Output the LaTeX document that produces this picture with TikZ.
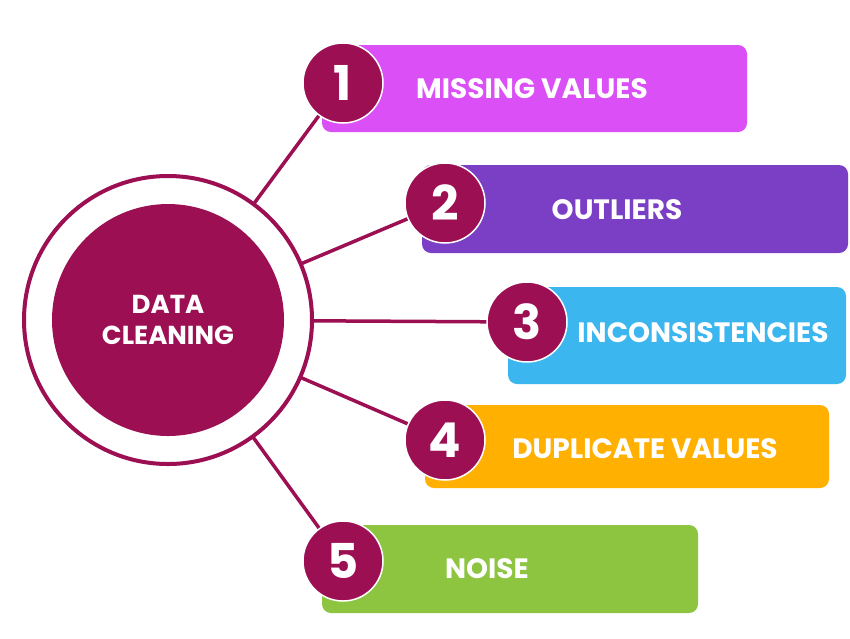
\documentclass[tikz,border=0pt]{standalone}
\usepackage{fontspec}
\setmainfont{Poppins}[BoldFont={* Bold}]
\definecolor{maroon}{HTML}{9C0F52}
\definecolor{c1}{HTML}{DA4FF6}
\definecolor{c2}{HTML}{7A3FC5}
\definecolor{c3}{HTML}{3CB6EF}
\definecolor{c4}{HTML}{FFB000}
\definecolor{c5}{HTML}{8DC540}
\begin{document}
\begin{tikzpicture}[x=1pt,y=-1pt,
  num/.style={circle,fill=maroon,draw=white,line width=1.5pt,minimum size=80pt,text=white,font=\bfseries\fontsize{48}{48}\selectfont},
  lbl/.style={text=white,font=\bfseries\fontsize{28}{28}\selectfont},
  link/.style={draw=maroon,line width=3.5pt}]
\useasboundingbox[fill=white] (0,0) rectangle (850,638);
\coordinate (c) at (168,320);
\node[num] (n1) at (343,83) {1};
\node[num] (n2) at (445,203) {2};
\node[num] (n3) at (527,322) {3};
\node[num] (n4) at (445,440) {4};
\node[num] (n5) at (343,561) {5};
\foreach \i in {1,...,5} \draw[link] (c) -- (n\i.center);
\node[circle,fill=white,draw=maroon,line width=4pt,minimum size=288pt] (outer) at (c) {};
\node[circle,fill=maroon,minimum size=232pt,text=white,align=center,font=\bfseries\fontsize{26}{31}\selectfont] (inner) at (c) {DATA\\CLEANING};
\fill[c1,rounded corners=9pt] (322,45) rectangle (747,132);
\fill[c2,rounded corners=9pt] (422,165) rectangle (848,253);
\fill[c3,rounded corners=9pt] (508,287) rectangle (846,384);
\fill[c4,rounded corners=9pt] (425,405) rectangle (829,488);
\fill[c5,rounded corners=9pt] (322,525) rectangle (698,613);
\foreach \i/\x/\y in {1/343/83,2/445/203,3/527/322,4/445/440,5/343/561}
  \node[num] at (\x,\y) {\i};
\node[lbl] (t1) at (532,89) {MISSING VALUES};
\node[lbl] (t2) at (617,210) {OUTLIERS};
\node[lbl] (t3) at (703,333) {INCONSISTENCIES};
\node[lbl] (t4) at (645,449) {DUPLICATE VALUES};
\node[lbl] (t5) at (487,569) {NOISE};
\end{tikzpicture}
\end{document}
